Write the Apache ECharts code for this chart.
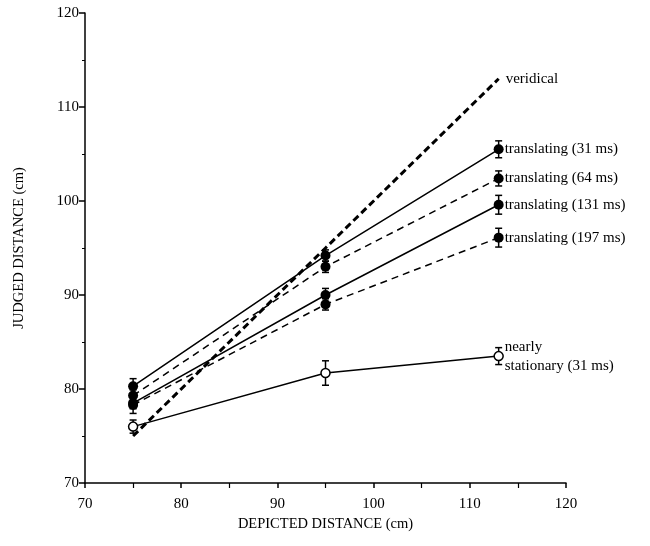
<!DOCTYPE html>
<html>
<head>
<meta charset="utf-8">
<script src="https://cdn.jsdelivr.net/npm/echarts@6/dist/echarts.min.js"></script>
<style>
  html, body { margin: 0; padding: 0; background: #fff; }
  #chart { width: 650px; height: 546px; }
</style>
</head>
<body>
<div id="chart"></div>
<script>
// depicted distances (x) for the three conditions
const depicted = [75, 95, 113];

// judged distance per condition
const trans31 = [80.3, 94.2, 105.5];
const trans64 = [79.3, 93.0, 102.4];
const trans131 = [78.5, 90.0, 99.6];
const trans197 = [78.3, 89.0, 96.1];
const stationary31 = [76.0, 81.7, 83.5];
const veridical = [75, 95, 113];

// half-length of error bars
const err31 = [0.8, 0.6, 0.9];
const err64 = [0.6, 0.6, 0.8];
const err131 = [0.6, 0.7, 1.0];
const err197 = [0.9, 0.6, 1.0];
const errStat = [0.7, 1.3, 0.9];

const labelFont = 'Liberation Serif';

const pairs = (ys) => depicted.map((x, i) => [x, ys[i]]);

// custom series that draws an error bar with caps
function errorSeries(ys, errs) {
  return {
    type: 'custom',
    data: depicted.map((x, i) => [x, ys[i] - errs[i], ys[i] + errs[i]]),
    z: 1,
    silent: true,
    renderItem: function (params, api) {
      const lo = api.coord([api.value(0), api.value(1)]);
      const hi = api.coord([api.value(0), api.value(2)]);
      const w = 3.5;
      const st = { stroke: '#000', lineWidth: 1.5 };
      return {
        type: 'group',
        children: [
          { type: 'line', shape: { x1: lo[0], y1: lo[1], x2: hi[0], y2: hi[1] }, style: st },
          { type: 'line', shape: { x1: lo[0] - w, y1: lo[1], x2: lo[0] + w, y2: lo[1] }, style: st },
          { type: 'line', shape: { x1: hi[0] - w, y1: hi[1], x2: hi[0] + w, y2: hi[1] }, style: st }
        ]
      };
    }
  };
}

function lineSeries(name, ys, dashed, open) {
  return {
    name: name,
    type: 'line',
    data: pairs(ys),
    symbol: 'circle',
    symbolSize: open ? 9 : 10,
    z: 3,
    itemStyle: open ? { color: '#fff', borderColor: '#000', borderWidth: 1.5 } : { color: '#000' },
    lineStyle: { color: '#000', width: 1.5, type: dashed ? [7, 5] : 'solid' },
    endLabel: {
      show: true,
      formatter: name,
      color: '#000',
      fontFamily: labelFont,
      fontSize: 15,
      lineHeight: 19,
      align: 'left',
      offset: [-2, 0]
    },
    animation: false
  };
}

const chart = echarts.init(document.getElementById('chart'));

chart.setOption({
  backgroundColor: '#fff',
  animation: false,
  grid: { left: 85, right: 84, top: 13, bottom: 63 },
  xAxis: {
    type: 'value',
    min: 70,
    max: 120,
    interval: 10,
    name: 'DEPICTED DISTANCE (cm)',
    nameLocation: 'middle',
    nameGap: 34,
    nameTextStyle: { fontFamily: labelFont, fontSize: 14.5, color: '#000' },
    axisLine: { lineStyle: { color: '#000', width: 1.5 } },
    axisTick: { show: true, length: 5, lineStyle: { color: '#000', width: 1.5 } },
    minorTick: { show: true, splitNumber: 2, length: 5, lineStyle: { color: '#000', width: 1.2 } },
    axisLabel: { fontFamily: labelFont, fontSize: 15, color: '#000', margin: 14 },
    splitLine: { show: false }
  },
  yAxis: {
    type: 'value',
    min: 70,
    max: 120,
    interval: 10,
    name: 'JUDGED DISTANCE (cm)',
    nameLocation: 'middle',
    nameGap: 58,
    nameTextStyle: { fontFamily: labelFont, fontSize: 14.5, color: '#000' },
    axisLine: { lineStyle: { color: '#000', width: 1.5 } },
    axisTick: { show: true, length: 6, lineStyle: { color: '#000', width: 1.5 } },
    minorTick: { show: true, splitNumber: 2, length: 3, lineStyle: { color: '#000', width: 1 } },
    axisLabel: { fontFamily: labelFont, fontSize: 15, color: '#000', margin: 6 },
    splitLine: { show: false }
  },
  series: [
    {
      name: 'veridical',
      type: 'line',
      data: pairs(veridical),
      symbol: 'none',
      z: 2,
      lineStyle: { color: '#000', width: 3, type: [7, 4] },
      endLabel: { show: true, formatter: 'veridical', color: '#000', fontFamily: labelFont, fontSize: 15, offset: [-1, 0] }
    },
    lineSeries('translating (31 ms)', trans31, false, false),
    lineSeries('translating (64 ms)', trans64, true, false),
    lineSeries('translating (131 ms)', trans131, false, false),
    lineSeries('translating (197 ms)', trans197, true, false),
    lineSeries('nearly\nstationary (31 ms)', stationary31, false, true),
    errorSeries(trans31, err31),
    errorSeries(trans64, err64),
    errorSeries(trans131, err131),
    errorSeries(trans197, err197),
    errorSeries(stationary31, errStat)
  ]
});
</script>
</body>
</html>
